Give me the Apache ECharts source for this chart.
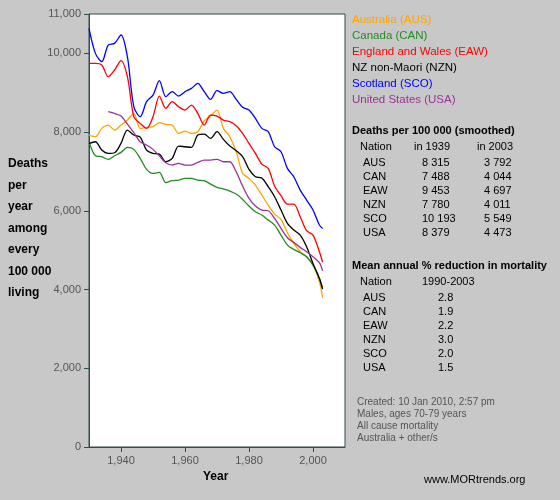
<!DOCTYPE html>
<html lang="en">
<head>
<meta charset="UTF-8">
<title>Deaths per 100 000</title>
<style>
  html, body { margin: 0; padding: 0; background: #c8c8c8; }
  #main { width: 560px; height: 500px; }
</style>
</head>
<body>
<div id="main"></div>
<script src="https://cdn.jsdelivr.net/npm/echarts@6/dist/echarts.min.js"></script>
<script>
  const chart = echarts.init(document.getElementById('main'));

  // years (every 2 years, plus 2003)
  const years = [1930,1932,1934,1936,1938,1940,1942,1944,1946,1948,1950,1952,1954,1956,1958,1960,1962,1964,1966,1968,1970,1972,1974,1976,1978,1980,1982,1984,1986,1988,1990,1992,1994,1996,1998,2000,2002,2003];

  const aus = [7925,7883,8094,8179,8052,8179,8306,8475,8094,8120,8137,8238,8196,8179,7967,8026,7967,8010,8289,8408,8560,8094,7883,7501,6951,6824,6654,6400,6146,5917,5782,5443,5172,4960,4833,4622,4198,3792];
  const can = [7755,7400,7374,7307,7400,7484,7611,7561,7332,7052,6951,6976,6714,6765,6781,6824,6824,6781,6765,6680,6595,6553,6502,6426,6290,6121,5977,5892,5765,5638,5384,5130,5020,4935,4833,4622,4283,4044];
  const eaw = [9746,9746,9704,9407,9577,9814,9407,8391,8221,8094,8391,8916,8602,8772,8645,8560,8687,8475,8179,8433,8408,8306,8264,8162,7967,7713,7459,7188,7078,6629,6383,6172,6172,5850,5494,5384,4960,4697];
  const nzn = [7713,7755,7544,7459,7476,7713,8052,7925,7874,7544,7459,7442,7247,7332,7645,7628,7611,7925,7950,7840,8010,7815,7645,7527,7374,7052,6866,6832,6612,6358,6019,5680,5511,5384,5088,4664,4283,4011];
  const sco = [10635,10000,9788,10212,10254,10466,9915,8645,8391,8772,8941,9305,8899,9026,8916,9026,9111,9238,9026,8831,9051,8984,9026,8831,8628,8560,8348,8094,8010,7628,7501,7078,6866,6527,6273,6019,5638,5549];
  const usa = [null,null,null,8518,8475,8408,8204,7984,7755,7671,7561,7391,7222,7163,7205,7163,7163,7230,7290,7290,7307,7247,7247,6993,6629,6316,6121,6019,6002,5807,5553,5316,5198,5071,4960,4833,4681,4473];

  const nations = ['Australia (AUS)', 'Canada (CAN)', 'England and Wales (EAW)', 'NZ non-Maori (NZN)', 'Scotland (SCO)', 'United States (USA)'];
  const codes = ['AUS', 'CAN', 'EAW', 'NZN', 'SCO', 'USA'];
  const colors = ['#ffa500', '#228b22', '#ff0000', '#000000', '#0000ff', '#993399'];
  const rate1939 = ['8 315', '7 488', '9 453', '7 780', '10 193', '8 379'];
  const rate2003 = ['3 792', '4 044', '4 697', '4 011', '5 549', '4 473'];
  const reduction = ['2.8', '1.9', '2.2', '3.0', '2.0', '1.5'];
  const notes = ['Created: 10 Jan 2010, 2:57 pm', 'Males, ages 70-79 years', 'All cause mortality', 'Australia + other/s'];
  const yTitle = ['Deaths', 'per', 'year', 'among', 'every', '100 000', 'living'];

  const font = 'Liberation Sans, Arial, sans-serif';
  const allSeries = [aus, can, eaw, nzn, sco, usa];

  const txt = (x, y, text, extra) => ({
    type: 'text', left: x, top: y,
    style: Object.assign({ text, font: '11px ' + font, fill: '#000' }, extra || {})
  });

  const graphics = [];
  nations.forEach((n, i) => graphics.push(txt(352, 14 + i * 16, n, { fill: colors[i], font: '11.5px ' + font })));
  graphics.push(txt(352, 125, 'Deaths per 100 000 (smoothed)', { font: 'bold 11px ' + font }));
  graphics.push(txt(360, 141, 'Nation'));
  graphics.push(txt(414, 141, 'in 1939'));
  graphics.push(txt(477, 141, 'in 2003'));
  codes.forEach((c, i) => {
    const y = 157 + i * 14;
    graphics.push(txt(363, y, c));
    graphics.push({ type: 'text', left: 422, top: y, style: { text: rate1939[i], font: '11px ' + font, fill: '#000', width: 24, align: 'right' } });
    graphics.push({ type: 'text', left: 484, top: y, style: { text: rate2003[i], font: '11px ' + font, fill: '#000', width: 24, align: 'right' } });
  });
  graphics.push(txt(352, 260, 'Mean annual % reduction in mortality', { font: 'bold 11px ' + font }));
  graphics.push(txt(360, 276, 'Nation'));
  graphics.push(txt(422, 276, '1990-2003'));
  codes.forEach((c, i) => {
    const y = 292 + i * 14;
    graphics.push(txt(363, y, c));
    graphics.push(txt(438, y, reduction[i]));
  });
  notes.forEach((t, i) => graphics.push(txt(357, 397 + i * 12, t, { fill: '#555', font: '10px ' + font })));
  yTitle.forEach((t, i) => graphics.push(txt(8, 158 + i * 21.5, t, { font: 'bold 12px ' + font })));
  graphics.push(txt(203, 471, 'Year', { font: 'bold 12px ' + font }));
  graphics.push(txt(424, 474, 'www.MORtrends.org', { font: '11px ' + font }));

  const option = {
    backgroundColor: '#c8c8c8',
    animation: false,
    grid: {
      left: 89, top: 14, width: 256, height: 433,
      show: true, backgroundColor: '#fff', borderColor: '#2f4f4f', borderWidth: 1
    },
    xAxis: {
      type: 'value', min: 1930, max: 2010, interval: 10,
      axisLine: { lineStyle: { color: '#2f4f4f' } },
      axisTick: { customValues: [1940, 1960, 1980, 2000], length: 5, lineStyle: { color: '#2f4f4f' } },
      axisLabel: { customValues: [1940, 1960, 1980, 2000], color: '#555', fontFamily: font, fontSize: 11 },
      splitLine: { show: false }
    },
    yAxis: {
      type: 'value', min: 0, max: 11000, interval: 2000,
      axisLine: { show: true, lineStyle: { color: '#2f4f4f' } },
      axisTick: { show: true, length: 5, lineStyle: { color: '#2f4f4f' } },
      axisLabel: { color: '#555', fontFamily: font, fontSize: 11 },
      splitLine: { show: false }
    },
    series: allSeries.map((d, i) => ({
      name: codes[i], type: 'line', smooth: 0.3, symbol: 'none',
      data: years.map((y, j) => [y, d[j]]),
      lineStyle: { color: colors[i], width: 1.3 }
    })),
    graphic: graphics
  };

  chart.setOption(option);
</script>
</body>
</html>
